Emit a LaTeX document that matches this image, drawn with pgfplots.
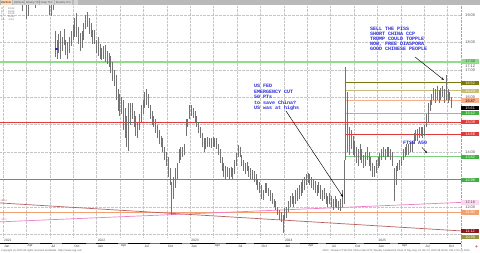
\documentclass[border=0pt]{standalone}
\usepackage{pgfplots}
\pgfplotsset{compat=1.18}
\usepackage{pgfplotstable}
\usetikzlibrary{arrows.meta}
\usepackage{fontspec}
\setmainfont{Liberation Sans}
\newfontfamily\monof{Liberation Mono}
\definecolor{annblue}{HTML}{2A2ADC}
\definecolor{lgreen}{HTML}{8FDC8A}
\definecolor{olive1}{HTML}{7A7A10}
\definecolor{khaki1}{HTML}{C4BC78}
\definecolor{salm}{HTML}{F6AE8C}
\definecolor{green2}{HTML}{7CCF7C}
\definecolor{green3}{HTML}{40B040}
\definecolor{red1}{HTML}{E03A3A}
\definecolor{pink1}{HTML}{F07CC8}
\definecolor{orng}{HTML}{F2A070}
\definecolor{brn}{HTML}{B86060}
\definecolor{dred}{HTML}{8B1A1A}

\pgfplotstableread{
w lo hi
0 20.2 21.0
1 20.6 21.4
2 20.9 21.8
3 21.2 22.0
4 21.4 22.3
5 21.0 22.2
6 21.3 22.5
7 20.4 21.8
8 19.9 21.0
9 19.8 20.8
10 19.6 20.4
11 19.15 20.1
12 19.35 20.0
13 18.85 19.6
14 18.95 19.7
15 19.4 20.1
16 19.5 20.2
17 19.6 20.4
18 19.25 20.0
19 19.6 20.3
20 19.8 20.5
21 19.9 20.6
22 19.7 20.4
23 19.6 20.3
24 19.45 20.1
25 19.5 20.2
26 19.0 19.7
27 18.95 19.5
28 19.2 19.8
29 17.45 18.4
30 17.4 18.1
31 17.6 18.3
32 17.4 18.4
33 17.7 18.2
34 17.9 18.5
35 17.55 18.1
36 17.4 18.0
37 17.6 18.2
38 17.85 18.4
39 18.1 18.65
40 18.2 18.9
41 18.2 19.07
42 17.95 18.55
43 17.7 18.35
44 17.8 18.4
45 18.1 18.7
46 18.5 19.0
47 18.55 19.1
48 18.3 18.9
49 18.2 18.7
50 17.95 18.45
51 17.95 18.45
52 17.6 18.1
53 17.5 18.2
54 17.4 17.95
55 17.35 17.8
56 17.4 17.85
57 17.3 17.9
58 17.2 17.7
59 17.1 17.6
60 16.9 17.5
61 16.6 17.3
62 16.4 17.0
63 15.9 16.8
64 15.5 16.3
65 15.3 16.1
66 15.4 16.0
67 14.8 15.9
68 14.5 15.6
69 14.2 15.3
70 14.05 15.8
71 15.0 15.8
72 15.2 15.8
73 14.9 15.5
74 14.6 15.3
75 14.5 15.1
76 14.8 15.4
77 15.1 15.7
78 15.4 15.9
79 15.6 16.2
80 15.7 16.3
81 15.6 16.1
82 15.2 15.7
83 15.0 15.5
84 14.9 15.3
85 14.7 15.2
86 14.5 15.0
87 14.3 14.8
88 14.2 14.6
89 14.0 14.5
90 13.7 14.2
91 13.5 14.0
92 13.1 13.8
93 12.8 13.4
94 11.7 12.9
95 12.3 13.1
96 12.7 13.4
97 13.0 13.6
98 13.6 14.1
99 13.7 14.2
100 13.8 14.2
101 13.9 14.3
102 14.6 15.2
103 14.9 15.2
104 15.2 15.7
105 15.3 15.7
106 15.25 15.6
107 15.1 15.5
108 14.9 15.3
109 14.7 15.1
110 14.5 14.9
111 14.2 14.7
112 14.0 14.5
113 14.1 14.5
114 14.2 14.55
115 14.2 14.5
116 14.15 14.5
117 14.2 14.55
118 14.2 14.5
119 14.1 14.5
120 13.9 14.3
121 13.6 14.1
122 13.3 13.8
123 13.1 13.6
124 13.0 13.5
125 13.1 13.45
126 13.0 13.4
127 13.1 13.45
128 13.0 13.4
129 13.2 13.7
130 13.5 13.95
131 13.8 14.25
132 13.8 14.2
133 13.5 13.9
134 13.3 13.7
135 13.2 13.6
136 13.3 13.65
137 13.1 13.5
138 13.0 13.4
139 13.0 13.35
140 12.9 13.3
141 12.8 13.2
142 12.6 13.0
143 12.5 12.9
144 12.3 12.8
145 12.25 12.6
146 12.5 12.87
147 12.5 12.85
148 12.4 12.7
149 12.2 12.6
150 12.1 12.5
151 12.0 12.3
152 11.9 12.2
153 11.7 12.0
154 11.5 11.9
155 11.45 11.8
156 11.05 11.7
157 11.5 11.95
158 11.6 12.0
159 11.8 12.2
160 12.0 12.4
161 12.1 12.5
162 12.0 12.4
163 12.1 12.6
164 12.2 12.7
165 12.3 12.8
166 12.4 12.9
167 12.5 13.0
168 12.6 13.1
169 12.8 13.2
170 12.85 13.25
171 12.8 13.2
172 12.7 13.1
173 12.6 13.0
174 12.5 12.95
175 12.4 12.8
176 12.5 12.9
177 12.3 12.8
178 12.2 12.6
179 12.3 12.7
180 12.1 12.5
181 12.0 12.4
182 12.1 12.5
183 12.0 12.4
184 11.9 12.3
185 12.0 12.4
186 11.95 12.3
187 11.9 12.2
188 11.85 12.3
189 12.0 12.6
190 12.1 13.7
191 13.7 17.1
192 14.0 16.2
193 13.9 14.9
194 14.1 14.8
195 13.9 14.6
196 13.8 14.4
197 13.6 14.2
198 13.5 14.1
199 13.7 14.3
200 13.6 14.1
201 13.4 13.9
202 13.5 14.0
203 13.7 14.2
204 13.5 14.0
205 13.3 13.8
206 13.1 13.6
207 13.1 13.5
208 13.25 13.7
209 13.4 13.8
210 13.5 13.95
211 13.7 14.1
212 13.8 14.2
213 13.7 14.1
214 13.8 14.2
215 13.8 14.2
216 13.7 14.1
217 13.5 14.0
218 12.2 13.4
219 12.8 13.5
220 13.3 13.6
221 13.35 13.7
222 13.5 13.8
223 13.7 14.1
224 13.8 14.2
225 13.9 14.3
226 13.9 14.3
227 14.0 14.35
228 14.0 14.4
229 14.3 14.7
230 14.4 14.8
231 14.4 14.85
232 14.5 14.9
233 14.6 14.9
234 14.5 14.9
235 14.6 15.0
236 14.9 15.4
237 15.1 15.8
238 15.5 15.9
239 15.7 16.1
240 15.9 16.35
241 15.8 16.3
242 15.9 16.4
243 15.8 16.25
244 15.9 16.35
245 16.0 16.4
246 15.8 16.3
247 15.9 16.8
248 15.8 16.3
249 15.9 16.2
250 15.6 16.0
}\bars

\begin{document}
\begin{tikzpicture}
\useasboundingbox (0,0) rectangle (480pt,253pt);
\fill[white] (0,0) rectangle (480pt,253pt);
% background grid in pixel coordinates
\begin{scope}[x=1pt,y=-1pt,shift={(0pt,253pt)}]
\foreach \x in {3,26.4,49.8,73.2,96.6,120,143.4,166.8,190.2,213.6,237,260.4,283.8,307.2,330.6,354,377.4,400.8,424.2,447.6}
  \draw[gray!45, densely dotted, line width=0.35pt] (\x,6) -- (\x,238);
\foreach \y in {15,42.4,69.8,97.2,124.6,152,179.4,206.8,234.2}
  \draw[gray!45, densely dotted, line width=0.35pt] (0,\y) -- (461,\y);
\draw[gray!70, densely dotted, line width=0.4pt] (461,0) -- (461,248);
\end{scope}

\begin{axis}[at={(0pt,15pt)}, anchor=south west, scale only axis,
  width=461pt, height=232pt, xmin=-1.672, xmax=255.3, ymin=10.861, ymax=19.328,
  axis lines=none, clip mode=individual]
% full-width levels
\addplot[color=lgreen, line width=2pt] coordinates {(-1.672,17.30) (255.3,17.30)};
\addplot[color=red1, line width=0.8pt] coordinates {(-1.672,15.09) (255.3,15.09)};
\addplot[color=green3, line width=0.9pt] coordinates {(-1.672,12.98) (255.3,12.98)};
\addplot[color=orng, line width=0.8pt] coordinates {(-1.672,11.80) (255.3,11.80)};
\addplot[color=pink1, line width=0.7pt] coordinates {(-1.672,11.45) (255.3,12.16)};
\addplot[color=brn, line width=0.7pt] coordinates {(-1.672,12.14) (255.3,11.12)};
% partial levels from Sep 2024
\addplot[color=olive1, line width=1.1pt] coordinates {(190.6,16.52) (255.3,16.52)};
\addplot[color=khaki1, line width=0.8pt] coordinates {(190.6,16.23) (255.3,16.23)};
\addplot[color=salm, line width=1.1pt] coordinates {(190.6,15.87) (255.3,15.87)};
\addplot[color=green2, line width=0.9pt] coordinates {(190.6,15.42) (255.3,15.42)};
\addplot[color=red1, line width=0.8pt] coordinates {(190.6,14.66) (255.3,14.66)};
\addplot[color=green2, line width=0.9pt] coordinates {(190.6,13.82) (255.3,13.82)};
% weekly high-low bars
\addplot[draw=none, mark=none, error bars/.cd, y dir=both, y explicit, error mark=none,
  error bar style={draw=black!55, line width=0.6pt}]
  table[x=w, y expr={(\thisrow{lo}+\thisrow{hi})/2}, y error expr={(\thisrow{hi}-\thisrow{lo})/2}] {\bars};
\addplot[color=annblue, line width=1.8pt] coordinates {(28.9,17.76) (30.4,17.76)};
% right-hand price labels
\tikzset{rl/.style={anchor=west, inner sep=0pt, minimum width=18pt, minimum height=4.6pt,
  font=\fontsize{3.8}{3.8}\selectfont, text=black!70}}
\node[rl] at (axis cs:255.3,19) {19.00};
\node[rl] at (axis cs:255.3,18) {18.00};
\node[rl] at (axis cs:255.3,17) {17.00};
\node[rl] at (axis cs:255.3,17.12) {17.12};
\node[rl, fill=lgreen] at (axis cs:255.3,17.30) {17.30};
\node[rl] at (axis cs:255.3,16) {16.00};
\node[rl, fill=olive1, text=white] at (axis cs:255.3,16.52) {16.52};
\node[rl, fill=khaki1, text=white] at (axis cs:255.3,16.23) {16.23};
\node[rl, fill=salm, text=black] at (axis cs:255.3,15.87) {15.87};
\node[rl, fill=black, text=white] at (axis cs:255.3,15.61) {15.61};
\node[rl, fill=green3, text=white] at (axis cs:255.3,15.42) {15.42};
\node[rl, fill=red1, text=white] at (axis cs:255.3,15.09) {15.09};
\node[rl, fill=red1, text=white] at (axis cs:255.3,14.66) {14.66};
\node[rl] at (axis cs:255.3,14) {14.00};
\node[rl, fill=green3, text=white] at (axis cs:255.3,13.82) {13.82};
\node[rl, fill=green3, text=white] at (axis cs:255.3,12.98) {12.98};
\node[rl] at (axis cs:255.3,12) {12.00};
\node[rl, fill=pink1!30] at (axis cs:255.3,12.16) {12.16};
\node[rl, fill=orng, text=white] at (axis cs:255.3,11.80) {11.80};
\node[rl, fill=dred, text=white] at (axis cs:255.3,11.12) {11.12};
\node[rl, fill=olive1!80, text=white] at (axis cs:255.3,10.90) {10.90};
\end{axis}

% overlays in pixel coordinates
\begin{scope}[x=1pt,y=-1pt,shift={(0pt,253pt)}]
% top tab bar
\fill[gray!55] (0,0) rectangle (480,5.5);
\fill[orange!30!white] (0.5,0.5) rectangle (12,5);
\foreach \a/\b in {13/23.5,25/38.5,40/53.5,55/72,73.5/78}
  \fill[gray!35] (\a,0.5) rectangle (\b,5);
\node[anchor=west, inner sep=0pt, font=\fontsize{2.6}{2.6}\selectfont] at (1,2.8) {2823.HK};
\node[anchor=west, inner sep=0pt, font=\fontsize{2.6}{2.6}\selectfont, text=black!70] at (14,2.8) {2823.HK};
\node[anchor=west, inner sep=0pt, font=\fontsize{2.6}{2.6}\selectfont, text=black!70] at (26,2.8) {Weekly TFC};
\node[anchor=west, inner sep=0pt, font=\fontsize{2.6}{2.6}\selectfont, text=black!70] at (41,2.8) {Daily TFC};
\node[anchor=west, inner sep=0pt, font=\fontsize{2.6}{2.6}\selectfont, text=black!70] at (56,2.8) {Monthly TFC};
% info rows
\foreach \t/\v/\yy in {O/15.92/8.5,H/16.00/11.2,L/15.55/13.9,C/15.61/16.6,Ch/-0.31/19.3}{
  \node[anchor=west, inner sep=0pt, font=\fontsize{2.5}{2.5}\selectfont, text=black!60] at (1,\yy) {\t};
  \node[anchor=west, inner sep=0pt, font=\fontsize{2.5}{2.5}\selectfont, text=black!60] at (8,\yy) {\v};
}
% left trendline tags
\node[anchor=west, inner sep=0pt, font=\fontsize{2.5}{2.5}\selectfont, text=brn] at (0.5,200.5) {12.14};
\node[anchor=west, inner sep=0pt, font=\fontsize{2.5}{2.5}\selectfont, text=pink1] at (0.5,219.5) {11.45};
% annotations
\begin{scope}[font=\monof\bfseries\fontsize{5}{5}\selectfont, text=annblue]
\node[anchor=west, inner sep=0pt] at (254,86) {US FED};
\node[anchor=west, inner sep=0pt] at (254,91.5) {EMERGENCY CUT};
\node[anchor=west, inner sep=0pt] at (254,97) {50 PTs};
\node[anchor=west, inner sep=0pt] at (254,102.5) {to save China?};
\node[anchor=west, inner sep=0pt] at (254,108) {US was at highs};
\node[anchor=west, inner sep=0pt] at (370,29) {SELL THE PISS};
\node[anchor=west, inner sep=0pt] at (370,34) {SHORT CHINA CCP};
\node[anchor=west, inner sep=0pt] at (370,39) {TRUMP COULD TOPPLE};
\node[anchor=west, inner sep=0pt] at (370,44) {NOW, FREE DIASPORA};
\node[anchor=west, inner sep=0pt] at (370,49) {GOOD CHINESE PEOPLE};
\node[anchor=west, inner sep=0pt] at (403,142.5) {FTSE A50};
\end{scope}
\draw[-{Stealth[length=3pt,width=2.2pt]}, line width=0.45pt] (286,111) -- (343,197);
\draw[-{Stealth[length=3pt,width=2.2pt]}, line width=0.45pt] (415,57) -- (444,80);
\draw[-{Stealth[length=2.5pt,width=2pt]}, line width=0.45pt] (422,147.5) -- (427,153);
% bottom date strip
\draw[black, line width=0.9pt] (0,243) -- (461,243);
\foreach \a/\b/\c in {28/40/red1,52/62/green3,86/96/red1,118/128/green3,150/160/red1,182/190/green3,215/226/red1,246/254/green3,290/300/red1,318/326/green3,356/364/red1,390/398/green3,420/430/red1}
  \draw[\c, line width=0.9pt] (\a,243) -- (\b,243);
\foreach \x/\m in {3/Jan,26.4/Apr,49.8/Jul,73.2/Oct,96.6/Jan,120/Apr,143.4/Jul,166.8/Oct,190.2/Jan,213.6/Apr,237/Jul,260.4/Oct,283.8/Jan,307.2/Apr,330.6/Jul,354/Oct,377.4/Jan,400.8/Apr,424.2/Jul,447.6/Oct}
  \node[anchor=west, inner sep=0pt, font=\fontsize{3.3}{3.3}\selectfont, text=black!75] at (\x+1,246) {\m};
\foreach \x/\yr in {3/2021,96.6/2022,190.2/2023,283.8/2024,377.4/2025}
  \node[anchor=west, inner sep=0pt, font=\fontsize{3.3}{3.3}\selectfont, text=black!75] at (\x+1,240.3) {\yr};
\node[anchor=west, inner sep=0pt, font=\fontsize{2.6}{2.6}\selectfont, text=black!60] at (1,250.8) {Copyright (c) 2025 All rights reserved worldwide. https://www.cqg.com};
\node[anchor=east, inner sep=0pt, font=\fontsize{2.6}{2.6}\selectfont, text=black!60] at (470,250.8) {2823 - iShares FTSE A50 China Index ETF, Weekly Candlestick Chart of Day Avg, Fri Nov 07 2025 08:06:08, 225.2715 @ 2025};
\node[inner sep=0pt, font=\fontsize{5}{5}\selectfont\bfseries, text=red1] at (476.5,247.5) {+};
\end{scope}
\end{tikzpicture}
\end{document}
